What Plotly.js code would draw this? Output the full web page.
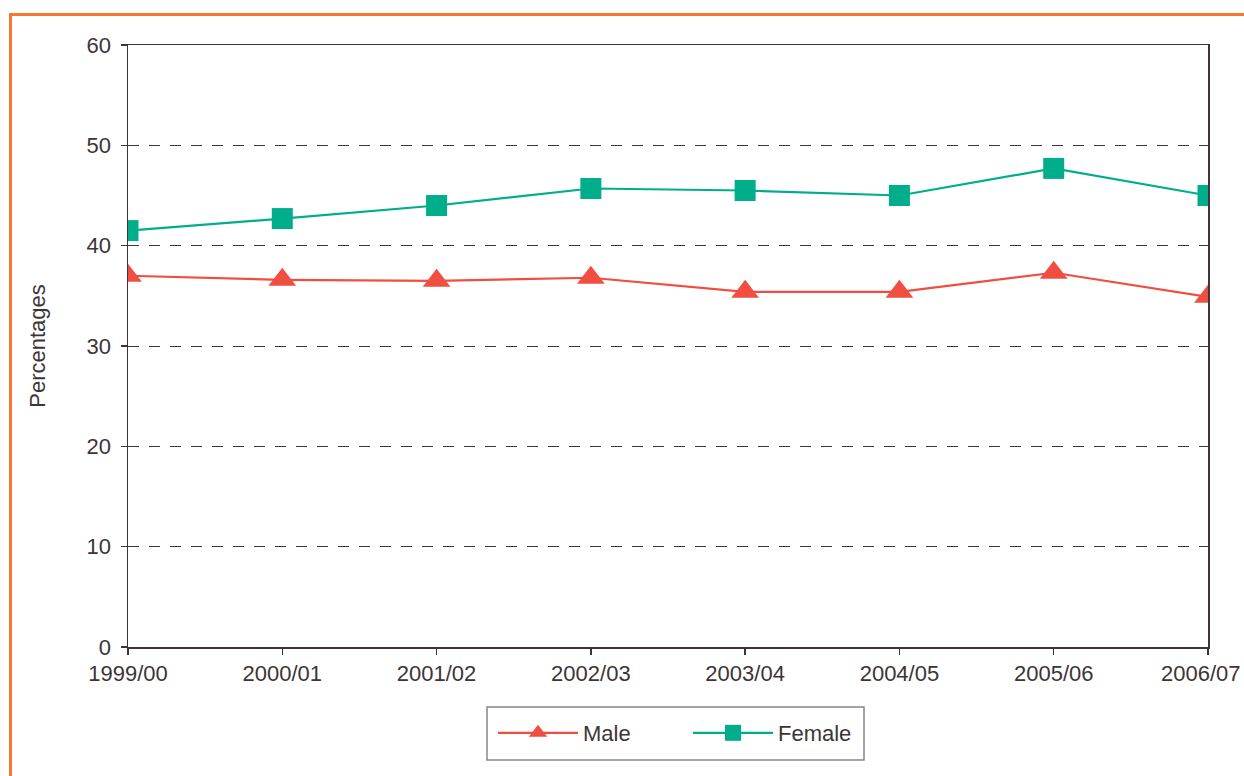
<!DOCTYPE html>
<html><head><meta charset="utf-8">
<script src="https://cdn.plot.ly/plotly-3.0.1.min.js"></script>
<style>
html,body{margin:0;padding:0;background:#fff;}
#wrap{position:relative;width:1244px;height:776px;}
#chart{position:absolute;left:0;top:0;width:1244px;height:776px;}
#frame{position:absolute;left:9px;top:13px;width:1235px;height:763px;border-top:3px solid #f47a30;border-left:3px solid #f47a30;box-sizing:border-box;pointer-events:none;}
</style></head>
<body><div id="wrap"><div id="chart"></div><div id="frame"></div></div>
<script>
const years = ["1999/00","2000/01","2001/02","2002/03","2003/04","2004/05","2005/06","2006/07"];
const male = [37.0, 36.6, 36.5, 36.8, 35.4, 35.4, 37.3, 34.9];
const female = [41.5, 42.7, 44.0, 45.7, 45.5, 45.0, 47.7, 45.0];
const yTicks = [0,10,20,30,40,50,60];

const txt = '#3d3535';
const lastIdx = years.length - 1;
const tickText = years.map((y, i) => i === lastIdx ? '' : y);
const traces = [
  {x: years, y: male, name: 'Male', type: 'scatter', mode: 'lines+markers',
   line: {color: '#f04e40', width: 2.2},
   marker: {symbol: 'triangle-up', size: 24, color: '#f04e40'}},
  {x: years, y: female, name: 'Female', type: 'scatter', mode: 'lines+markers',
   line: {color: '#00ae8c', width: 2.2},
   marker: {symbol: 'square', size: 21, color: '#00ae8c'}}
];
const layout = {
  width: 1244, height: 776,
  margin: {l: 128, r: 36, t: 45, b: 129},
  paper_bgcolor: 'rgba(0,0,0,0)', plot_bgcolor: '#fff',
  font: {family: 'Liberation Sans, Arial, sans-serif', size: 22, color: txt},
  showlegend: true,
  legend: {orientation: 'h', x: (493 - 128) / 1080, xanchor: 'left',
           y: (647 - 733) / 602, yanchor: 'middle',
           bgcolor: 'rgba(0,0,0,0)', borderwidth: 0,
           font: {size: 22, color: txt}, itemwidth: 80,
           entrywidth: 100, entrywidthmode: 'pixels'},
  shapes: [{type: 'rect', xref: 'paper', yref: 'paper', layer: 'below',
            x0: (487 - 128) / 1080, x1: (864 - 128) / 1080,
            y0: (647 - 707) / 602, y1: (647 - 760) / 602,
            line: {color: '#8a8585', width: 1.5}, fillcolor: '#fff'}],
  annotations: [{x: years[lastIdx], y: 0, xref: 'x', yref: 'y',
                 text: years[lastIdx], showarrow: false,
                 xanchor: 'right', yanchor: 'top', xshift: 35, yshift: -12,
                 font: {size: 22, color: txt}}],
  xaxis: {type: 'category', range: [0, lastIdx], showgrid: false,
          tickvals: years, ticktext: tickText,
          showline: true, linecolor: txt, linewidth: 1.5, mirror: true,
          ticks: 'outside', ticklen: 6, tickcolor: txt, tickwidth: 1.5,
          tickfont: {size: 22, color: txt}, fixedrange: true},
  yaxis: {range: [0, 60], tickvals: yTicks, showgrid: true, gridcolor: txt,
          griddash: '11px,10px', gridwidth: 1, zeroline: false,
          showline: true, linecolor: txt, linewidth: 1.5, mirror: true,
          ticks: 'outside', ticklen: 6, tickcolor: txt, tickwidth: 1.5,
          ticklabelstandoff: 5,
          tickfont: {size: 22, color: txt},
          title: {text: 'Percentages', font: {size: 22, color: txt}, standoff: 35}}
};
Plotly.newPlot('chart', traces, layout, {displayModeBar: false, staticPlot: true});
</script></body></html>
